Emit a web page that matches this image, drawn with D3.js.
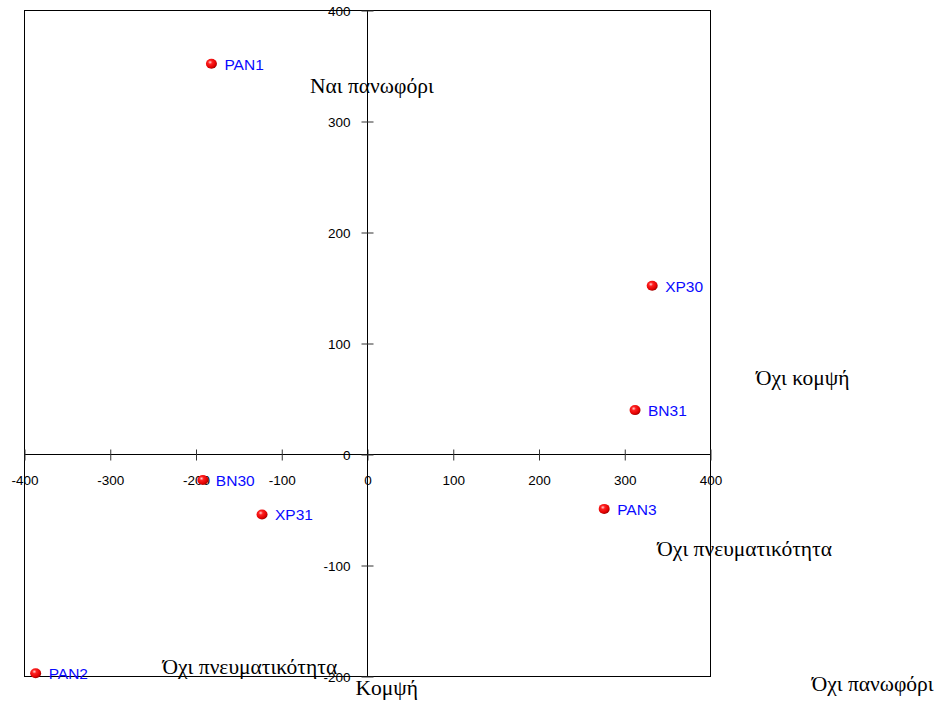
<!DOCTYPE html>
<html><head><meta charset="utf-8">
<script src="https://cdn.jsdelivr.net/npm/d3@7"></script>
<style>body{margin:0;background:#fff}svg{display:block}</style>
</head><body>
<script>
// data
const names = ["PAN1","PAN2","PAN3","XP30","BN31","BN30","XP31"];
const xs = [-182, -387, 276, 332, 312, -192, -123];
const ys = [352, -197, -49, 152, 40, -23, -54];
const xTicks = [-400,-300,-200,-100,0,100,200,300,400];
const yTicks = [-200,-100,0,100,200,300,400];
// attribute annotations (data coordinates of text start / baseline)
const noteText = ["Ναι πανωφόρι","Όχι κομψή","Όχι πνευματικότητα","Όχι πνευματικότητα","Κομψή","Όχι πανωφόρι"];
const noteX = [-67, 453, 338, -239, -14, 518];
const noteY = [326, 63, -91, -198, -217, -213];

const W=937,H=702;
const svg=d3.select("body").append("svg").attr("width",W).attr("height",H);
const defs=svg.append("defs");
const g1=defs.append("radialGradient").attr("id","ball").attr("cx","38%").attr("cy","35%").attr("r","65%");
g1.append("stop").attr("offset","0%").attr("stop-color","#ffd0d0");
g1.append("stop").attr("offset","30%").attr("stop-color","#ff2020");
g1.append("stop").attr("offset","80%").attr("stop-color","#e00000");
g1.append("stop").attr("offset","100%").attr("stop-color","#a00000");

const x=d3.scaleLinear().domain([-400,400]).range([24.5,710.5]);
const y=d3.scaleLinear().domain([-200,400]).range([676.5,10.5]);

// frame
svg.append("rect").attr("x",x(-400)).attr("y",y(400)).attr("width",x(400)-x(-400)).attr("height",y(-200)-y(400))
  .attr("fill","none").attr("stroke","#000").attr("stroke-width",1);

const fmt = d => String(d);
// x axis through y=0
const xa=svg.append("g").attr("transform",`translate(0,${y(0)})`).call(d3.axisBottom(x).tickValues(xTicks).tickSize(6).tickFormat(fmt));
xa.select(".domain").attr("stroke","#000").attr("d",`M${x(-400)},0H${x(400)}`);
xa.selectAll(".tick line").attr("y1",-5).attr("y2",6).attr("stroke","#333");
xa.selectAll(".tick text").attr("y",30).attr("dy",0).attr("fill","#000")
  .style("font-family","'Liberation Sans',Arial,sans-serif").style("font-size","13.5px");

// y axis through x=0
const ya=svg.append("g").attr("transform",`translate(${x(0)},0)`).call(d3.axisLeft(y).tickValues(yTicks).tickSize(6).tickFormat(fmt));
ya.select(".domain").attr("stroke","#000").attr("d",`M0,${y(400)}V${y(-200)}`);
ya.selectAll(".tick line").attr("x1",-6).attr("x2",6).attr("stroke","#333");
ya.selectAll(".tick text").attr("x",-17).attr("dy","0.36em").attr("fill","#000")
  .style("font-family","'Liberation Sans',Arial,sans-serif").style("font-size","13.5px");

// points
const pts=names.map((n,i)=>({n,x:xs[i],y:ys[i]}));
svg.selectAll("ellipse.pt").data(pts).enter().append("ellipse").attr("class","pt")
  .attr("cx",d=>x(d.x)).attr("cy",d=>y(d.y)).attr("rx",5.5).attr("ry",5)
  .attr("fill","url(#ball)");
svg.selectAll("text.lbl").data(pts).enter().append("text").attr("class","lbl")
  .attr("x",d=>x(d.x)+13).attr("y",d=>y(d.y)+6).text(d=>d.n)
  .attr("fill","#0a0aff").style("font-family","'Liberation Sans',Arial,sans-serif").style("font-size","15.5px");

// annotations
const notes=noteText.map((t,i)=>({t,x:noteX[i],y:noteY[i]}));
svg.selectAll("text.note").data(notes).enter().append("text").attr("class","note")
  .attr("x",d=>x(d.x)).attr("y",d=>y(d.y)).text(d=>d.t)
  .attr("fill","#000").style("font-family","'Liberation Serif','Times New Roman',serif").style("font-size","21.5px");
</script>
</body></html>
